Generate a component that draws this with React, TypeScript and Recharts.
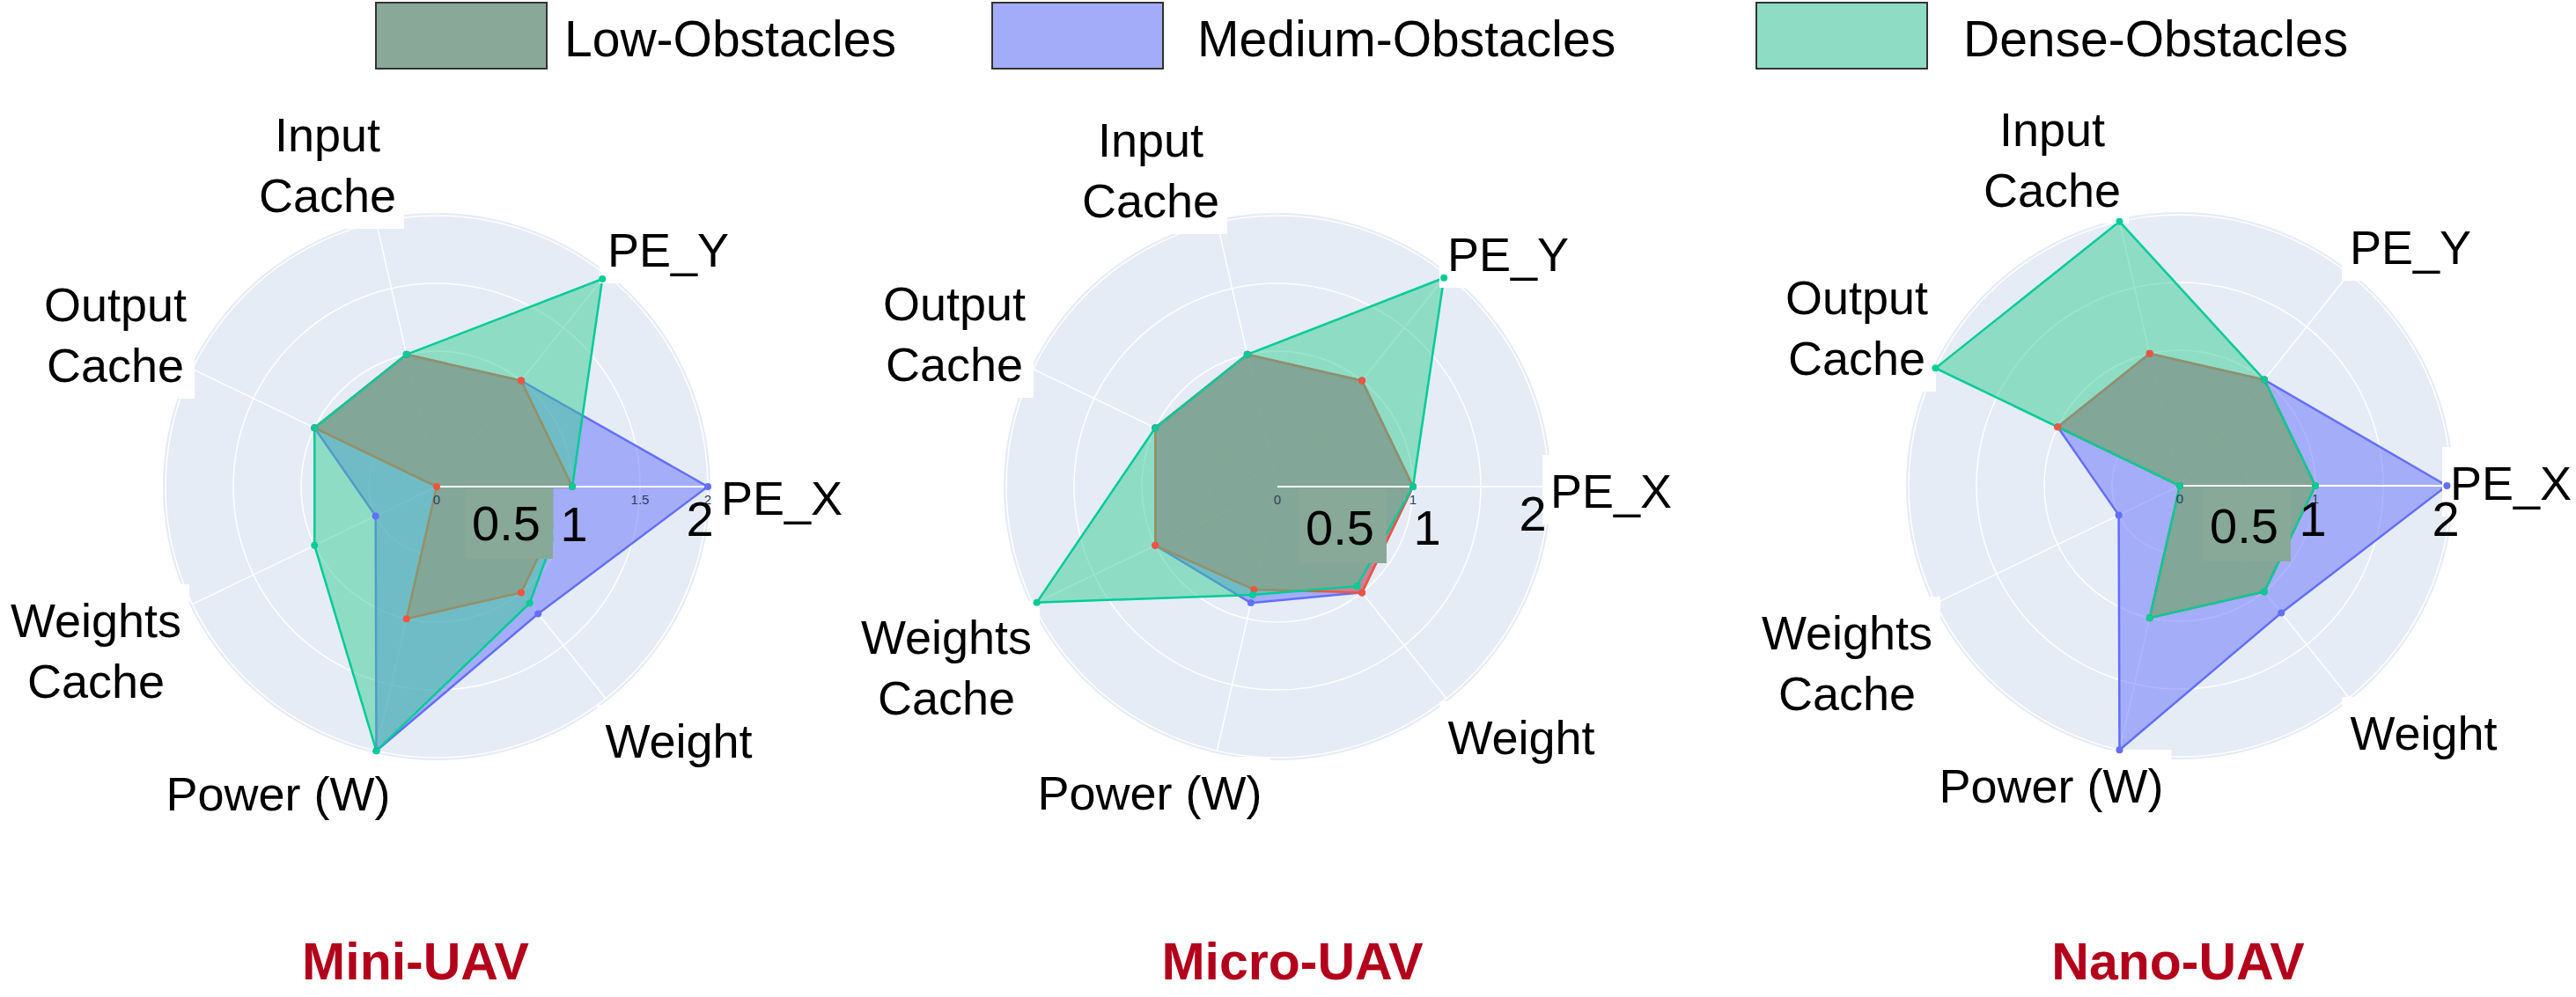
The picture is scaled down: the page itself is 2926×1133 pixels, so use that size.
import React from "react";
import { RadarChart, Radar, PolarGrid, PolarAngleAxis, PolarRadiusAxis } from "recharts";

const categories = ["PE_X", "PE_Y", "Input Cache", "Output Cache", "Weights Cache", "Power (W)", "Weight"];
const seriesNames = ["Low-Obstacles", "Medium-Obstacles", "Dense-Obstacles"];
const panelTitles = ["Mini-UAV", "Micro-UAV", "Nano-UAV"];
const radialTicks = [0, 0.5, 1, 1.5, 2];

// values in category order
const miniLow = [1, 1, 1, 1, 0, 1, 1];
const miniMedium = [2, 1, 1, 1, 0.5, 2, 1.2];
const miniDense = [1, 1.96, 1, 1, 1, 2, 1.1];

const microLow = [1, 1, 1, 1, 1, 0.78, 1];
const microMedium = [1, 1, 1, 1, 1, 0.88, 1];
const microDense = [1, 1.97, 1, 1, 1.97, 0.82, 0.94];

const nanoLow = [1, 1, 1, 1, 0, 1, 1];
const nanoMedium = [1.97, 1, 1, 1, 0.5, 2, 1.2];
const nanoDense = [1, 1, 2, 2, 0, 1, 1];

const W = 2926;
const H = 1133;
const R = 308;
const STEP = 360 / categories.length;
const FONT = "'Liberation Sans', Arial, Helvetica, sans-serif";

const lowColor = "#ef553b";
const mediumColor = "#636efa";
const denseColor = "#00cc96";
const denseFill = "#39cc94";
const legendFills = ["#8aa898", "#a3acf8", "#8fdcc5"];

const labelLines: Record<string, string[]> = {
  "Input Cache": ["Input", "Cache"],
  "Output Cache": ["Output", "Cache"],
  "Weights Cache": ["Weights", "Cache"],
};

type LabelPos = { dx: number; dy: number; anchor?: "start" | "middle" };
type BigTick = { v: number; dx: number; dy: number; bg?: string };

const panels = [
  {
    title: panelTitles[0], cx: 496, cy: 553, titleX: 472,
    low: miniLow, medium: miniMedium, dense: miniDense,
    smallTicks: [0, 1.5, 2],
    bigTicks: [
      { v: 0.5, dx: 2, dy: 61, bg: "#88a898" },
      { v: 1, dx: 2, dy: 62, bg: "#a4adf8" },
      { v: 2, dx: -9, dy: 56 },
    ] as BigTick[],
    labels: {
      "PE_X": { dx: 323, dy: 32, anchor: "start" },
      "PE_Y": { dx: 263, dy: -250 },
      "Input Cache": { dx: -124, dy: -312 },
      "Output Cache": { dx: -365, dy: -119 },
      "Weights Cache": { dx: -387, dy: 240 },
      "Power (W)": { dx: -180, dy: 368 },
      "Weight": { dx: 275, dy: 308 },
    } as Record<string, LabelPos>,
  },
  {
    title: panelTitles[1], cx: 1451, cy: 553, titleX: 1468,
    low: microLow, medium: microMedium, dense: microDense,
    smallTicks: [0, 1],
    bigTicks: [
      { v: 0.5, dx: -6, dy: 66, bg: "#88a898" },
      { v: 1, dx: 16, dy: 66 },
      { v: 2, dx: -18, dy: 50 },
    ] as BigTick[],
    labels: {
      "PE_X": { dx: 310, dy: 24, anchor: "start" },
      "PE_Y": { dx: 262, dy: -245 },
      "Input Cache": { dx: -144, dy: -306 },
      "Output Cache": { dx: -367, dy: -120 },
      "Weights Cache": { dx: -376, dy: 259 },
      "Power (W)": { dx: -145, dy: 367 },
      "Weight": { dx: 277, dy: 304 },
    } as Record<string, LabelPos>,
  },
  {
    title: panelTitles[2], cx: 2476, cy: 552, titleX: 2474,
    low: nanoLow, medium: nanoMedium, dense: nanoDense,
    smallTicks: [0, 1],
    bigTicks: [
      { v: 0.5, dx: -4, dy: 65, bg: "#88a898" },
      { v: 1, dx: -3, dy: 57 },
      { v: 2, dx: -6, dy: 57 },
    ] as BigTick[],
    labels: {
      "PE_X": { dx: 307, dy: 16, anchor: "start" },
      "PE_Y": { dx: 262, dy: -252 },
      "Input Cache": { dx: -145, dy: -317 },
      "Output Cache": { dx: -367, dy: -126 },
      "Weights Cache": { dx: -378, dy: 255 },
      "Power (W)": { dx: -146, dy: 360 },
      "Weight": { dx: 277, dy: 300 },
    } as Record<string, LabelPos>,
  },
];

type Panel = (typeof panels)[number];

let ctx: CanvasRenderingContext2D | null = null;
function textWidth(t: string, font: string) {
  if (!ctx) ctx = document.createElement("canvas").getContext("2d");
  if (!ctx) return t.length * 30;
  ctx.font = font;
  return ctx.measureText(t).width;
}

const LABEL_SIZE = 54;
const NUM_SIZE = 56;
const LINE_GAP = 69;

function renderAngleLabel(p: Panel, props: any) {
  const name = String(props.payload.value);
  const pos = p.labels[name];
  const lines = labelLines[name] || [name];
  const anchor = pos.anchor || "middle";
  const x = p.cx + pos.dx;
  const lastY = p.cy + pos.dy;
  const firstY = lastY - LINE_GAP * (lines.length - 1);
  const w = Math.max(...lines.map((l) => textWidth(l, `${LABEL_SIZE}px ${FONT}`)));
  const left = anchor === "start" ? x - 9 : x - w / 2 - 9;
  return (
    <g>
      <rect x={left} y={firstY - 60} width={w + 18} height={lastY - firstY + 79} fill="#ffffff" />
      {lines.map((l, i) => (
        <text key={l + i} x={x} y={firstY + i * LINE_GAP} textAnchor={anchor} fontSize={LABEL_SIZE} fontFamily={FONT} fill="#000">
          {l}
        </text>
      ))}
    </g>
  );
}

function renderRadiusLabel(p: Panel, props: any) {
  const v = Number(props.payload.value);
  const { x, y } = props;
  const big = p.bigTicks.find((b) => Math.abs(b.v - v) < 1e-6);
  let bigEl = null;
  if (big) {
    const label = String(big.v);
    const tw = textWidth(label, `${NUM_SIZE}px ${FONT}`);
    const bx = x + big.dx;
    const by = y + big.dy;
    bigEl = (
      <g>
        {big.bg && <rect x={bx - tw / 2 - 8} y={y + 2} width={tw + 22} height={by + 21 - (y + 2)} fill={big.bg} />}
        <text x={bx} y={by} textAnchor="middle" fontSize={NUM_SIZE} fontFamily={FONT} fill="#000">
          {label}
        </text>
      </g>
    );
  }
  return (
    <g>
      {p.smallTicks.some((s) => Math.abs(s - v) < 1e-6) && (
        <text x={x} y={y + 20} textAnchor="middle" fontSize={15} fontFamily={FONT} fill="#2a3f5f">
          {String(v)}
        </text>
      )}
      {bigEl}
    </g>
  );
}

function UavRadar({ p }: { p: Panel }) {
  const rows = categories.map((c, i) => ({
    axis: c,
    low: p.low[i],
    medium: p.medium[i],
    dense: p.dense[i],
  }));
  return (
    <RadarChart
      width={W}
      height={H}
      data={rows}
      cx={p.cx}
      cy={p.cy}
      outerRadius={R}
      startAngle={-STEP}
      endAngle={360 - STEP}
      margin={{ top: 0, right: 0, bottom: 0, left: 0 }}
    >
      <PolarGrid gridType="circle" stroke="#ffffff" strokeWidth={1.5} />
      <Radar
        name={seriesNames[1]}
        dataKey="medium"
        stroke={mediumColor}
        strokeWidth={2.5}
        fill={mediumColor}
        fillOpacity={0.5}
        dot={{ r: 4, fill: mediumColor, fillOpacity: 1, stroke: "none" }}
        isAnimationActive={false}
      />
      <Radar
        name={seriesNames[0]}
        dataKey="low"
        stroke={lowColor}
        strokeWidth={2.5}
        fill={lowColor}
        fillOpacity={0.5}
        dot={{ r: 4, fill: lowColor, fillOpacity: 1, stroke: "none" }}
        isAnimationActive={false}
      />
      <Radar
        name={seriesNames[2]}
        dataKey="dense"
        stroke={denseColor}
        strokeWidth={2.5}
        fill={denseFill}
        fillOpacity={0.5}
        dot={{ r: 4, fill: denseColor, fillOpacity: 1, stroke: "none" }}
        isAnimationActive={false}
      />
      <PolarAngleAxis dataKey="axis" tick={(props: any) => renderAngleLabel(p, props)} tickLine={false} axisLine={false} />
      <PolarRadiusAxis
        angle={0}
        domain={[0, 2]}
        ticks={radialTicks as any}
        tickCount={5}
        allowDataOverflow
        axisLine={{ stroke: "#ffffff", strokeWidth: 2 }}
        tick={(props: any) => renderRadiusLabel(p, props)}
      />
    </RadarChart>
  );
}

const legendBoxX = [427, 1127, 1995];
const legendTextX = [641, 1360, 2230];

export default function App() {
  return (
    <div style={{ position: "absolute", left: 0, top: 0, width: W, height: H, background: "#ffffff", overflow: "hidden" }}>
      {panels.map((p) => (
        <div
          key={"disk-" + p.title}
          style={{
            position: "absolute",
            left: p.cx - R - 3,
            top: p.cy - R - 3,
            width: 2 * R + 6,
            height: 2 * R + 6,
            borderRadius: "50%",
            background: "#e5ecf6",
          }}
        />
      ))}
      {panels.map((p) => (
        <div key={p.title} style={{ position: "absolute", left: 0, top: 0 }}>
          <UavRadar p={p} />
        </div>
      ))}
      <svg width={W} height={H} style={{ position: "absolute", left: 0, top: 0, pointerEvents: "none" }}>
        {seriesNames.map((s, i) => (
          <g key={s}>
            <rect x={legendBoxX[i]} y={3} width={194} height={75} fill={legendFills[i]} stroke="#333333" strokeWidth={2} />
            <text x={legendTextX[i]} y={64} fontSize={57} fontFamily={FONT} fill="#000">
              {s}
            </text>
          </g>
        ))}
        {panels.map((p) => (
          <text key={"t-" + p.title} x={p.titleX} y={1113} textAnchor="middle" fontSize={59} fontWeight="bold" fontFamily={FONT} fill="#b3001b">
            {p.title}
          </text>
        ))}
      </svg>
    </div>
  );
}
